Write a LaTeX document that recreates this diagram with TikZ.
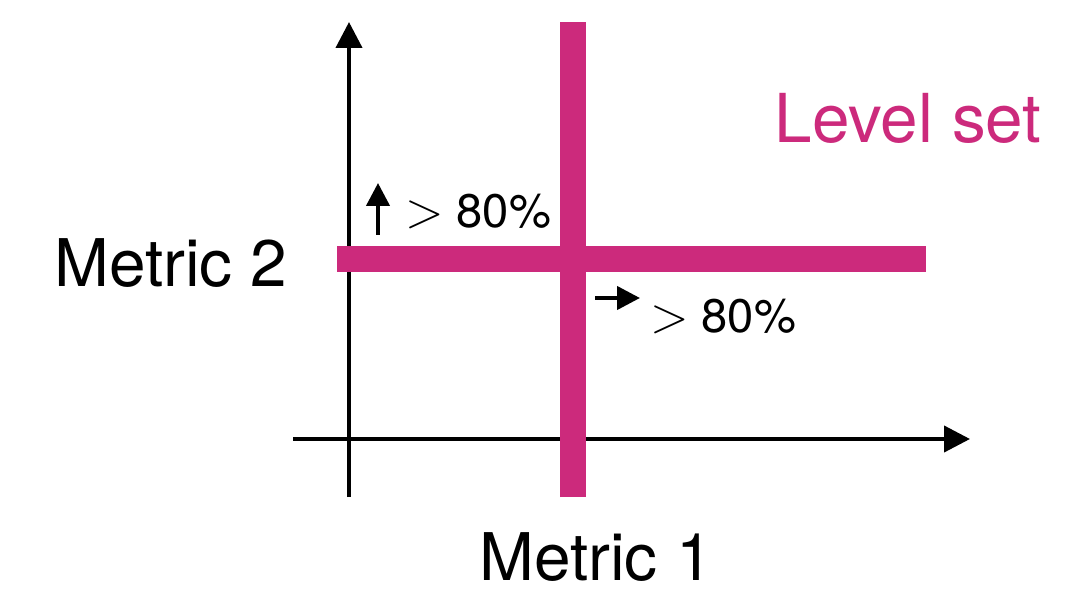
\documentclass[tikz,border=0pt]{standalone}
\usepackage{fontspec}
\setmainfont{TeX Gyre Heros}
\usepackage{tikz}
\usetikzlibrary{arrows.meta,positioning}
\usepackage{xcolor}
\definecolor{levelpink}{RGB}{204,42,124}

\begin{document}
\begin{tikzpicture}[
    axis/.style={-{Triangle[length=2.6mm, width=2.6mm]}, line width=1.15pt, black},
    small/.style={-{Triangle[length=2.3mm, width=2.3mm]}, line width=1.2pt, black},
    bar/.style={line width=2.6mm, levelpink},
    lbl/.style={font=\fontsize{18.7}{22}\selectfont, anchor=base, inner sep=0pt},
    pct/.style={font=\fontsize{13.4}{16}\selectfont, anchor=base, inner sep=0pt}]
    \useasboundingbox (0,0) rectangle (10.72,5.89);
    % axes
    \coordinate (yb) at (3.49,0.92);
    \coordinate (yt) at (3.49,5.67);
    \coordinate (xl) at (2.93,1.50);
    \coordinate (xr) at (9.70,1.50);
    \draw[axis] (yb) -- (yt);
    \draw[axis] (xl) -- (xr);
    % level set
    \coordinate (vb) at (5.73,0.92);
    \coordinate (vt) at (5.73,5.67);
    \coordinate (hl) at (3.37,3.30);
    \coordinate (hr) at (9.26,3.30);
    \draw[bar] (vb) -- (vt);
    \draw[bar] (hl) -- (hr);
    \node[lbl, text=levelpink, font=\fontsize{19.2}{23}\selectfont] (level) at (9.08,4.46) {Level set};
    \node[lbl] (m2) at (1.71,3.02) {Metric 2};
    \node[lbl] (m1) at (5.96,0.09) {Metric 1};
    % thresholds
    \coordinate (ua) at (3.78,3.54);
    \coordinate (ub) at (3.78,4.06);
    \draw[small] (ua) -- (ub);
    \node[pct] (up) at (4.78,3.61) {$>$ 80\%};
    \coordinate (ra) at (5.95,2.91);
    \coordinate (rb) at (6.40,2.91);
    \draw[small] (ra) -- (rb);
    \node[pct] (right) at (7.23,2.56) {$>$ 80\%};
\end{tikzpicture}
\end{document}
